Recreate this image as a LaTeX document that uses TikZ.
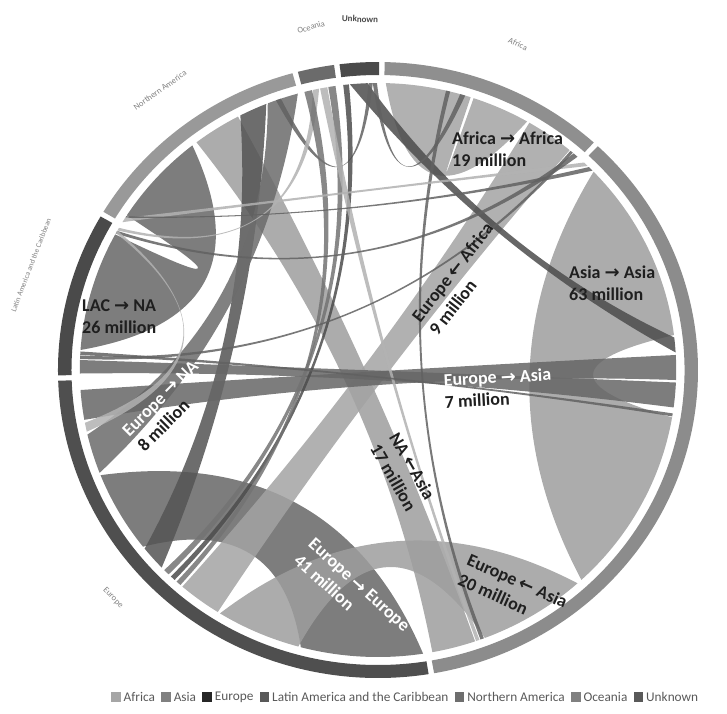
\documentclass[tikz,border=0pt]{standalone}
\usepackage{fontspec}
\newfontfamily\lab{Carlito}
\newfontfamily\arrfont{DejaVu Sans}
\usepackage{tikz}
\usetikzlibrary{calc,positioning}

\definecolor{ringAfr}{gray}{0.56}
\definecolor{ringAsi}{gray}{0.55}
\definecolor{ringEur}{gray}{0.31}
\definecolor{ringLac}{gray}{0.29}
\definecolor{ringNam}{gray}{0.60}
\definecolor{ringOce}{gray}{0.42}
\definecolor{ringUnk}{gray}{0.29}
\definecolor{chAfr}{gray}{0.64}
\definecolor{chAsi}{gray}{0.62}
\definecolor{chEur}{gray}{0.40}
\definecolor{chLac}{gray}{0.40}
\definecolor{chEuNa}{gray}{0.42}
\definecolor{chNam}{gray}{0.33}
\definecolor{chUnk}{gray}{0.30}
\definecolor{chOce}{gray}{0.45}
\definecolor{chThin}{gray}{0.38}
\definecolor{chPale}{gray}{0.70}
\definecolor{lgAfr}{gray}{0.65}
\definecolor{lgAsi}{gray}{0.50}
\definecolor{lgEur}{gray}{0.15}
\definecolor{lgLac}{gray}{0.35}
\definecolor{lgNam}{gray}{0.43}
\definecolor{lgOce}{gray}{0.50}
\definecolor{lgUnk}{gray}{0.35}
\definecolor{legtext}{gray}{0.35}
\definecolor{labdark}{gray}{0.12}
\definecolor{segtext}{gray}{0.50}

\newcommand{\crad}{287}
\newcommand{\rarr}{{\arrfont\bfseries →}}
\newcommand{\larr}{{\arrfont\bfseries ←}}

% ring segment: colour, from, to
\newcommand{\ringseg}[3]{\fill[#1] (#2:295) arc[start angle=#2,end angle=#3,radius=295]
  -- (#3:308) arc[start angle=#3,end angle=#2,radius=308] -- cycle;}

% ribbon: a1, a2, b1, b2, depth of inner curve, depth of outer curve
\newcommand{\ribbon}[7][]{\fill[chord,#1] (#2:\crad) arc[start angle=#2,end angle=#3,radius=\crad]
  .. controls ($(#3:\crad)!0.6667!({(#3+#4)/2}:#6)$) and ($(#4:\crad)!0.6667!({(#3+#4)/2}:#6)$) .. (#4:\crad)
  arc[start angle=#4,end angle=#5,radius=\crad]
  .. controls ($(#5:\crad)!0.6667!({(#5+#2)/2}:#7)$) and ($(#2:\crad)!0.6667!({(#5+#2)/2}:#7)$) .. (#2:\crad) -- cycle;}

\begin{document}
\begin{tikzpicture}[x=1pt,y=1pt]

\tikzset{chord/.style = {fill opacity=0.85}}
\tikzset{lbl/.style = {font=\lab\bfseries\fontsize{18}{22}\selectfont, text=labdark, inner sep=0pt, align=left}}
\tikzset{lblw/.style = {lbl, text=white}}
\tikzset{segname/.style = {font=\lab\fontsize{8.5}{10}\selectfont, text=segtext, inner sep=0pt}}
\tikzset{legsq/.style = {minimum size=9.5pt, inner sep=0pt}}
\tikzset{legtxt/.style = {font=\lab\fontsize{13.3}{16}\selectfont, text=legtext, inner sep=0pt}}

\useasboundingbox (-378,-343) rectangle (349,370);

\begin{scope}[xscale=1.039]
% ring
\ringseg{ringAfr}{47.6}{88.8}
\ringseg{ringUnk}{89.8}{96.9}
\ringseg{ringOce}{97.9}{104.5}
\ringseg{ringNam}{105.5}{149.1}
\ringseg{ringLac}{150.1}{181}
\ringseg{ringEur}{182}{279.1}
\ringseg{ringAsi}{280.1}{406.6}

% flows inside one region
\ribbon[fill=chAsi]{-47}{-9.5}{7}{43.7}{130}{90}
\ribbon[fill=chAfr]{60}{71.3}{71.9}{88.5}{128}{128}
\ribbon[fill=chEur]{201.5}{218}{255}{278.7}{170}{85}
\ribbon[fill=chLac]{128.5}{147.4}{151.8}{176}{115}{115}

% main bands
\ribbon[fill=chAsi]{238}{254.5}{291}{312}{122}{115}
\ribbon[fill=chAsi]{118}{127.5}{280.5}{289}{0}{0}
\ribbon[fill=chAfr]{50}{59.5}{229}{237.5}{0}{0}
\ribbon[fill=chNam]{112}{117.5}{218.5}{223.5}{120}{120}
\ribbon[fill=chEuNa]{105.6}{111.7}{193}{201}{120}{120}
\ribbon[fill=chUnk]{3.5}{6.5}{92}{95.4}{160}{160}
\ribbon[fill=chLac]{178}{180.7}{352.5}{357.5}{0}{0}
\ribbon[fill=chEur]{184}{190}{358}{363}{0}{0}

% thin flows
\ribbon[fill=chThin]{73}{74}{90.2}{91}{127}{127}
\ribbon[fill=chThin]{91}{91.8}{109}{110}{130}{130}
\ribbon[fill=chUnk]{95.6}{96.7}{226}{227}{0}{0}
\ribbon[fill=chOce]{98.2}{99.6}{224.2}{225.4}{0}{0}
\ribbon[fill=chPale]{99.8}{101.2}{289.2}{289.9}{0}{0}
\ribbon[fill=chPale]{101.4}{102.6}{150.3}{150.9}{120}{120}
\ribbon[fill=chOce]{102.8}{104.3}{227.5}{228.5}{0}{0}
\ribbon[fill=chThin]{76}{76.8}{290.1}{290.8}{0}{0}
\ribbon[fill=chPale]{45.3}{46.3}{148}{149}{180}{180}
\ribbon[fill=chThin]{44}{45}{147.6}{147.95}{150}{150}
\ribbon[fill=chThin]{48}{49}{151}{151.6}{60}{60}
\ribbon[fill=chThin]{176.3}{177}{350.7}{351.3}{0}{0}
\ribbon[fill=chThin]{49.2}{49.8}{177.1}{177.8}{0}{0}
\ribbon[fill=chPale]{190.6}{192.4}{150.95}{151.5}{110}{110}
\end{scope}

% region names
\node[segname, rotate=35] (nmNam) at (-218,280) {Northern America};
\node[segname, rotate=16] (nmOce) at (-67,343) {Oceania};
\node[segname, rotate=-2, text=ringUnk, font=\lab\bfseries\fontsize{9}{10}\selectfont] (nmUnk) at (-18,351) {Unknown};
\node[segname, rotate=-25] (nmAfr) at (140,326) {Africa};
\node[segname, rotate=69, font=\lab\fontsize{7.5}{9}\selectfont] (nmLac) at (-347,105) {Latin America and the Caribbean};
\node[segname, rotate=-45] (nmEur) at (-265,-228) {Europe};

% flow labels
\node[lbl, anchor=west] (lbAfAf) at (74,221) {Africa \rarr{} Africa\\19 million};
\node[lbl, anchor=west] (lbAsAs) at (191,87) {Asia \rarr{} Asia\\63 million};
\node[lbl, anchor=west] (lbLaNa) at (-296,53) {LAC \rarr{} NA\\26 million};
\node[lbl, rotate=52] (lbEuAf) at (83,91) {Europe \larr{} Africa\\9 million};
\node[lblw, rotate=3] (lbEuAs) at (120,-18) {Europe \rarr{} Asia\\\textcolor{labdark}{7 million}};
\node[lblw, rotate=45] (lbEuNa) at (-210,-36) {Europe \rarr{} NA\\\textcolor{labdark}{8 million}};
\node[lbl, rotate=-60] (lbNaAs) at (25,-102) {NA \larr{}Asia\\17 million};
\node[lblw, rotate=-42] (lbEuEu) at (-26,-223) {Europe \rarr{} Europe\\41 million};
\node[lbl, rotate=-24] (lbEuAa) at (135,-221) {Europe \larr{} Asia\\20 million};

% legend
\node[legsq, fill=lgAfr] (sqAfr) at (-262,-327) {};
\node[legtxt, right=2.5pt of sqAfr] (txAfr) {Africa};
\node[legsq, fill=lgAsi, right=6pt of txAfr] (sqAsi) {};
\node[legtxt, right=2.5pt of sqAsi] (txAsi) {Asia};
\node[legsq, fill=lgEur, right=6pt of txAsi] (sqEur) {};
\node[legtxt, right=2.5pt of sqEur] (txEur) {Europe};
\node[legsq, fill=lgLac, right=6pt of txEur] (sqLac) {};
\node[legtxt, right=2.5pt of sqLac] (txLac) {Latin America and the Caribbean};
\node[legsq, fill=lgNam, right=6pt of txLac] (sqNam) {};
\node[legtxt, right=2.5pt of sqNam] (txNam) {Northern America};
\node[legsq, fill=lgOce, right=6pt of txNam] (sqOce) {};
\node[legtxt, right=2.5pt of sqOce] (txOce) {Oceania};
\node[legsq, fill=lgUnk, right=6pt of txOce] (sqUnk) {};
\node[legtxt, right=2.5pt of sqUnk] (txUnk) {Unknown};
\end{tikzpicture}
\end{document}
